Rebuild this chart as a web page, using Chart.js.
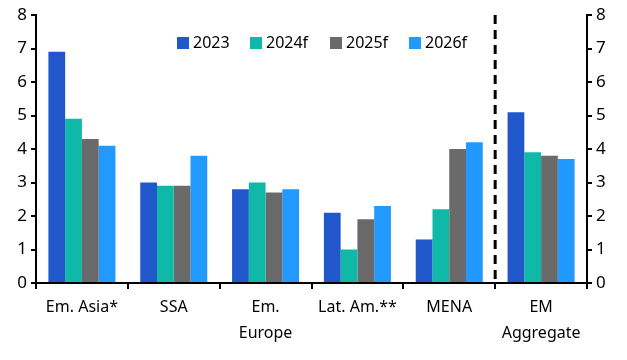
<!DOCTYPE html>
<html>
<head>
<meta charset="utf-8">
<script src="https://cdn.jsdelivr.net/npm/chart.js@4/dist/chart.umd.min.js"></script>
<style>
  html, body { margin: 0; padding: 0; background: #fff; }
  #wrap { width: 627px; height: 360px; }
</style>
</head>
<body>
<div id="wrap"><canvas id="chart" width="627" height="360"></canvas></div>
<script>
// Data
const categories = ['Em. Asia*', 'SSA', ['Em.', 'Europe'], 'Lat. Am.**', 'MENA', ['EM', 'Aggregate']];
const seriesNames = ['2023', '2024f', '2025f', '2026f'];
const values2023 = [6.9, 3.0, 2.8, 2.1, 1.3, 5.1];
const values2024f = [4.9, 2.9, 3.0, 1.0, 2.2, 3.9];
const values2025f = [4.3, 2.9, 2.7, 1.9, 4.0, 3.8];
const values2026f = [4.1, 3.8, 2.8, 2.3, 4.2, 3.7];
const yTicks = [0, 1, 2, 3, 4, 5, 6, 7, 8];

const colors = ['#2058CC', '#10B8A8', '#6A6A6A', '#2299FF'];
const FONT = "'Noto Sans', 'DejaVu Sans', sans-serif";

// dashed separator before the aggregate group
const separatorPlugin = {
    id: 'separator',
    afterDatasetsDraw(chart) {
        const x = chart.scales.x;
        const area = chart.chartArea;
        const px = (x.getPixelForValue(4) + x.getPixelForValue(5)) / 2;
        const ctx = chart.ctx;
        ctx.save();
        ctx.strokeStyle = '#000';
        ctx.lineWidth = 3;
        ctx.setLineDash([9, 6]);
        ctx.beginPath();
        ctx.moveTo(px, area.top);
        ctx.lineTo(px, area.bottom);
        ctx.stroke();
        ctx.restore();
    }
};

// legend drawn inside the plot, one row
const legendPlugin = {
    id: 'innerLegend',
    afterDraw(chart) {
        const ctx = chart.ctx;
        const startX = [177, 250, 330, 409];
        const y = 43;
        ctx.save();
        ctx.font = '16px ' + FONT;
        ctx.textBaseline = 'middle';
        chart.data.datasets.forEach((ds, i) => {
            ctx.fillStyle = ds.backgroundColor;
            ctx.fillRect(startX[i], y - 6, 12, 12);
            ctx.fillStyle = '#000';
            ctx.fillText(ds.label, startX[i] + 16, y);
        });
        ctx.restore();
    }
};

const yAxis = (position) => ({
    position: position,
    min: 0,
    max: 8,
    afterBuildTicks: (axis) => { axis.ticks = yTicks.map(v => ({ value: v })); },
    afterFit: (axis) => { axis.width = position === 'left' ? 36 : 40; },
    border: { color: '#000', width: 2 },
    grid: { drawOnChartArea: false, color: '#000', lineWidth: 2, tickLength: 5 },
    ticks: { color: '#000', padding: 4, font: { family: FONT, size: 17 } }
});

new Chart(document.getElementById('chart'), {
    type: 'bar',
    data: {
        labels: categories,
        datasets: [values2023, values2024f, values2025f, values2026f].map((vals, i) => ({
            label: seriesNames[i],
            data: vals,
            backgroundColor: colors[i],
            categoryPercentage: 0.73,
            barPercentage: 1.0,
            yAxisID: 'y'
        }))
    },
    options: {
        responsive: false,
        animation: false,
        layout: { padding: { top: 15, right: 0, left: 0, bottom: 0 } },
        plugins: { legend: { display: false }, tooltip: { enabled: false } },
        scales: {
            x: {
                afterFit: (axis) => { axis.height = 77; },
                border: { color: '#000', width: 2 },
                grid: { offset: true, drawOnChartArea: false, color: '#000', lineWidth: 2, tickLength: 6 },
                ticks: { color: '#000', padding: 5, maxRotation: 0, font: { family: FONT, size: 16, lineHeight: 1.65 } }
            },
            y: yAxis('left'),
            y2: yAxis('right')
        }
    },
    plugins: [separatorPlugin, legendPlugin]
});
</script>
</body>
</html>
